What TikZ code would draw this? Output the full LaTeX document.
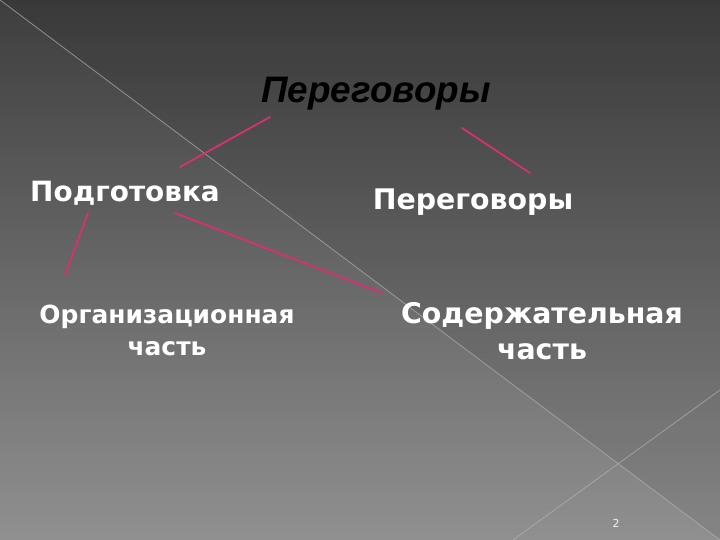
\documentclass[tikz,border=0pt]{standalone}
\usepackage{fontspec}
\setmainfont{DejaVu Sans}
\newfontfamily\titlefont{Liberation Sans}
\usetikzlibrary{positioning}
\definecolor{linkred}{HTML}{D83070}
\definecolor{slidetop}{HTML}{3E3E3E}
\definecolor{slidebot}{HTML}{909090}

\begin{document}
\begin{tikzpicture}[x=1bp, y=-1bp,
            label/.style={text=white, inner sep=0pt, align=center},
            link/.style={draw=linkred, line width=1.8bp, line cap=round}]

            % background of the slide
            \useasboundingbox (0,0) rectangle (720,540);
            \shade[top color=slidetop, bottom color=slidebot] (0,0) rectangle (720,540);
            \fill[black, opacity=0.07] (0,0) -- (720,0) -- (720,540) -- cycle;
            \draw[gray!60, opacity=0.7, line width=0.8bp] (0,0) -- (720,540);
            \draw[gray!60, opacity=0.7, line width=0.8bp] (513,540) -- (720,390);

            \node[anchor=base, inner sep=0pt, font=\titlefont\bfseries\itshape\fontsize{37}{42}\selectfont] (title) at (376,103) {Переговоры};
            \node[label, anchor=base, font=\bfseries\fontsize{28}{32}\selectfont] (prep) at (125,202) {Подготовка};
            \node[label, anchor=base, font=\bfseries\fontsize{28.5}{34}\selectfont] (talks) at (473,210) {Переговоры};
            \node[label, font=\bfseries\fontsize{25}{32}\selectfont] (org) at (167,330) {Организационная\\часть};
            \node[label, font=\bfseries\fontsize{28.5}{36}\selectfont] (cont) at (542,331) {Содержательная\\часть};
            \node[text=white!90!gray, inner sep=0pt, font=\fontsize{11}{13}\selectfont] (page) at (616,523) {2};

            \draw[link] ([shift={(-106,14)}]title.base) -- ([shift={(55,-35)}]prep.base);
            \draw[link] ([shift={(86,25)}]title.base) -- ([shift={(57,-37)}]talks.base);
            \draw[link] ([shift={(-37,11)}]prep.base) -- ([shift={(-102,-55)}]org.center);
            \draw[link] ([shift={(50,11)}]prep.base) -- ([shift={(-160,-38)}]cont.center);
        \end{tikzpicture}
\end{document}
